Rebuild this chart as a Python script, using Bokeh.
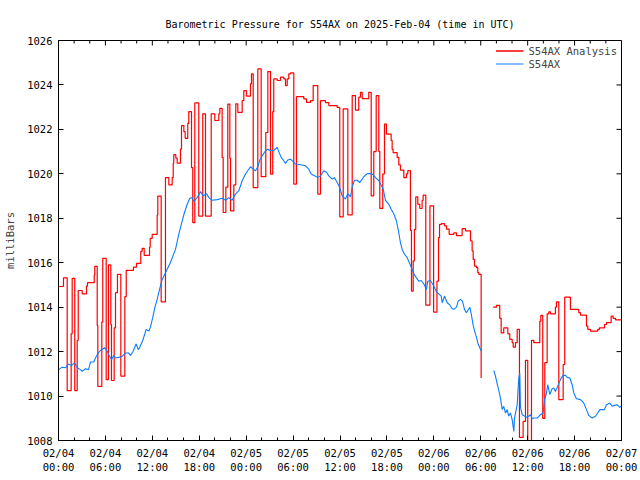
import math
from bokeh.plotting import figure
from bokeh.models import Range1d, FixedTicker, Legend, LegendItem
from bokeh.embed import file_html
from bokeh.resources import INLINE

NAN = float("nan")
FONT = "DejaVu Sans Mono"

TITLE = "Barometric Pressure for S54AX on 2025-Feb-04 (time in UTC)"
Y_LABEL = "milliBars"

# x axis: hours since 2025-02-04 00:00 UTC
x_ticks = [0, 6, 12, 18, 24, 30, 36, 42, 48, 54, 60, 66, 72]
x_minor_ticks = list(range(0, 73, 2))
x_tick_labels = ["02/04\n00:00", "02/04\n06:00", "02/04\n12:00", "02/04\n18:00",
                 "02/05\n00:00", "02/05\n06:00", "02/05\n12:00", "02/05\n18:00",
                 "02/06\n00:00", "02/06\n06:00", "02/06\n12:00", "02/06\n18:00",
                 "02/07\n00:00"]
y_ticks = [1008, 1010, 1012, 1014, 1016, 1018, 1020, 1022, 1024, 1026]

# S54AX Analysis (step series), part before the data gap
analysis_hours_a = [0.0, 0.64, 1.11, 1.62, 1.75, 2.08, 2.39, 2.52, 3.03, 3.58, 3.71, 4.57, 4.64,
                    4.95, 5.03, 5.54, 5.66, 6.10, 6.39, 6.69, 6.78, 7.12, 7.29, 7.54, 7.97,
                    8.48, 8.66, 9.59, 9.97, 10.52, 10.70, 10.96, 11.64, 11.73, 11.98, 12.62,
                    12.70, 13.13, 13.68, 14.11, 14.54, 14.67, 14.74, 15.0, 15.18, 15.6, 15.73,
                    16.03, 16.2, 16.53, 16.66, 17.01, 17.17, 17.43, 17.94, 18.45, 18.8, 19.53,
                    19.99, 20.5, 20.63, 20.93, 21.06, 21.4, 21.65, 21.91, 22.0, 22.42, 22.67,
                    22.93, 23.49, 23.7, 24.04, 24.55, 24.68, 24.9, 25.49, 25.92, 26.51, 26.77,
                    27.11, 27.4, 27.53, 27.97, 28.39, 28.81, 29.03, 29.25, 29.45, 29.67, 30.09,
                    30.43, 31.37, 31.71, 32.23, 32.57, 33.16, 33.5, 34.14, 34.57, 35.64, 35.97,
                    36.41, 37.0, 37.56, 37.98, 38.4, 38.62, 38.84, 39.68, 39.99, 40.32, 40.63,
                    40.96, 41.09, 41.47, 41.69, 41.94, 42.54, 42.67, 42.8, 43.31, 43.52, 43.73,
                    44.16, 44.5, 44.67, 45.01, 45.14, 45.36, 45.52, 45.69, 45.95, 46.2, 46.5,
                    46.63, 46.97, 47.5, 47.97, 48.4, 48.6, 48.73, 48.98, 49.36, 49.62, 49.96,
                    50.55, 50.9, 51.62, 52.05, 52.69, 52.9, 53.03, 53.2, 53.45, 53.62, 53.75,
                    54.05]
analysis_mb_a = [1014.93, 1015.32, 1010.24, 1012.8, 1015.3, 1010.24, 1012.5, 1014.75, 1014.6,
                 1014.95, 1015.1, 1015.45, 1015.84, 1013.18, 1010.44, 1013.33, 1016.2, 1010.74,
                 1015.9, 1013.22, 1010.7, 1013.07, 1014.65, 1015.48, 1010.9, 1014.47, 1015.66,
                 1015.8, 1015.97, 1016.51, 1016.65, 1016.33, 1016.7, 1017.1, 1017.28, 1018.15,
                 1019.0, 1014.24, 1019.83, 1019.5, 1019.83, 1020.48, 1020.86, 1020.71, 1020.48,
                 1021.11, 1022.17, 1021.9, 1021.6, 1022.27, 1022.8, 1020.28, 1017.8, 1023.19,
                 1018.1, 1022.7, 1018.1, 1022.7, 1022.4, 1022.7, 1022.95, 1020.74, 1018.26,
                 1019.4, 1023.14, 1020.7, 1018.33, 1019.5, 1023.15, 1022.77, 1023.3, 1023.74,
                 1023.5, 1024.05, 1024.5, 1019.38, 1024.72, 1019.87, 1021.86, 1024.6, 1019.99,
                 1022.8, 1024.27, 1024.2, 1024.35, 1024.27, 1023.97, 1024.27, 1024.5, 1024.54,
                 1019.54, 1023.47, 1023.37, 1023.22, 1023.29, 1023.97, 1019.09, 1023.29,
                 1023.2, 1023.07, 1022.99, 1018.06, 1022.92, 1018.15, 1023.52, 1022.87,
                 1023.45, 1023.67, 1023.38, 1023.67, 1019.01, 1021.0, 1023.52, 1021.0, 1018.45,
                 1020.0, 1022.24, 1021.79, 1021.5, 1021.1, 1020.95, 1020.74, 1020.4, 1020.17,
                 1019.83, 1020.0, 1020.14, 1017.46, 1014.72, 1016.08, 1017.5, 1018.96, 1018.63,
                 1018.44, 1018.8, 1019.04, 1014.09, 1018.56, 1013.78, 1015.17, 1017.13, 1017.73,
                 1017.76, 1017.66, 1017.51, 1017.28, 1017.34, 1017.22, 1017.53, 1017.43,
                 1016.98, 1016.53, 1016.15, 1015.85, 1015.78, 1015.55, 1015.48, 1010.81]

# S54AX Analysis, part after the data gap
analysis_hours_b = [55.59, 56.01, 56.43, 56.61, 56.94, 57.46, 57.71, 58.02, 58.15, 58.44,
                    58.66, 58.95, 59.42, 59.72, 60.01, 60.49, 60.78, 61.55, 61.68, 61.93,
                    62.19, 62.49, 62.7, 62.92, 63.55, 63.68, 63.98, 64.54, 64.74, 65.47,
                    66.53, 66.75, 67.52, 67.69, 68.03, 68.96, 69.18, 69.82, 70.08, 70.68,
                    70.93, 71.23, 71.95]
analysis_mb_b = [1014.0, 1014.08, 1013.5, 1012.84, 1013.07, 1012.8, 1012.55, 1012.4, 1012.2,
                 1012.4, 1013.0, 1008.14, 1008.86, 1011.61, 1007.9, 1012.51, 1012.4, 1013.37,
                 1013.63, 1009.0, 1011.5, 1013.7, 1013.79, 1013.7, 1014.0, 1014.24, 1009.84,
                 1011.42, 1014.45, 1013.9, 1013.75, 1013.64, 1013.15, 1013.0, 1012.92, 1013.0,
                 1013.07, 1013.22, 1013.3, 1013.6, 1013.5, 1013.43, 1013.43]

# S54AX observations
obs_hours = [0.04, 0.47, 0.9, 1.24, 1.66, 2.08, 2.39, 2.81, 3.03, 3.45, 3.84, 4.09, 4.51, 4.73,
             5.08, 5.37, 5.92, 6.23, 6.52, 6.78, 7.07, 7.29, 7.71, 8.15, 8.57, 8.91, 9.21, 9.5,
             9.94, 10.19, 10.36, 10.78, 11.21, 11.55, 11.76, 12.06, 12.31, 12.62, 12.92, 13.26,
             13.59, 14.3, 14.96, 15.38, 15.82, 16.11, 16.46, 16.79, 17.1, 17.3, 17.74, 18.16,
             18.5, 18.93, 19.22, 19.65, 20.29, 20.93, 21.36, 21.78, 22.21, 22.63, 23.06, 23.49,
             23.91, 24.55, 24.9, 25.19, 25.49, 25.74, 26.05, 26.47, 26.77, 27.11, 27.53, 27.97,
             28.17, 28.48, 28.81, 29.03, 29.32, 29.67, 30.01, 30.31, 30.95, 31.59, 32.01, 32.31,
             32.74, 33.16, 33.5, 33.93, 34.27, 34.57, 35.0, 35.29, 35.64, 35.97, 36.28, 36.7,
             36.99, 37.34, 37.56, 37.85, 38.2, 38.53, 38.84, 39.04, 39.48, 39.9, 40.24, 40.54,
             40.96, 41.27, 41.52, 41.82, 42.24, 42.54, 42.88, 43.22, 43.52, 43.73, 43.95, 44.25,
             44.59, 44.92, 45.23, 45.44, 45.78, 46.07, 46.38, 46.71, 47.06, 47.23, 47.57, 47.99,
             48.34, 48.63, 48.94, 49.07, 49.36, 49.71, 50.04, 50.34, 50.55, 50.9, 51.11, 51.41,
             51.66, 51.92, 52.17, 52.6, 52.78, 53.03, 53.24, 53.45, 53.62, 53.8, 54.05, 54.8,
             55.67, 55.88, 56.18, 56.43, 56.52, 56.74, 56.94, 57.16, 57.38, 57.58, 57.8, 58.02,
             58.23, 58.31, 58.66, 58.86, 58.99, 59.08, 59.3, 59.59, 59.94, 60.36, 60.58, 60.78,
             61.21, 61.64, 61.98, 62.15, 62.37, 62.57, 62.83, 63.13, 63.34, 63.55, 63.77, 64.1,
             64.28, 64.54, 64.83, 65.05, 65.39, 65.69, 65.9, 66.24, 66.75, 67.17, 67.52, 67.81,
             68.25, 68.67, 68.96, 69.22, 69.57, 69.82, 70.08, 70.5, 70.8, 71.1, 71.44, 71.77,
             71.95]
obs_mb = [1011.19, 1011.3, 1011.27, 1011.44, 1011.38, 1011.49, 1011.27, 1011.19, 1011.11,
          1011.23, 1011.19, 1011.53, 1011.53, 1011.71, 1011.94, 1012.05, 1012.17, 1012.02,
          1011.79, 1011.64, 1011.83, 1011.71, 1011.74, 1011.79, 1011.94, 1011.94, 1011.83,
          1011.98, 1012.35, 1012.09, 1012.17, 1012.5, 1013.0, 1012.92, 1013.1, 1013.55,
          1013.97, 1014.35, 1014.8, 1015.25, 1015.48, 1016.0, 1016.6, 1017.28, 1017.88,
          1018.26, 1018.63, 1018.9, 1018.93, 1018.75, 1018.93, 1019.2, 1019.0, 1019.11,
          1018.93, 1018.81, 1018.84, 1018.9, 1018.81, 1018.93, 1018.81, 1019.09, 1019.24,
          1019.69, 1019.99, 1020.32, 1020.21, 1020.14, 1020.32, 1020.62, 1020.81, 1021.04,
          1021.11, 1021.04, 1021.06, 1021.19, 1021.0, 1020.74, 1020.59, 1020.47, 1020.62,
          1020.66, 1020.55, 1020.44, 1020.41, 1020.36, 1020.21, 1019.99, 1019.91, 1019.83,
          1019.91, 1020.14, 1020.07, 1019.91, 1019.76, 1019.83, 1019.61, 1019.38, 1019.01,
          1018.86, 1019.11, 1018.96, 1019.41, 1019.71, 1019.71, 1019.61, 1019.76, 1019.87,
          1020.01, 1020.01, 1019.96, 1019.83, 1019.69, 1019.5, 1019.31, 1018.81, 1018.63,
          1018.41, 1018.2, 1017.88, 1017.35, 1016.9, 1016.6, 1016.38, 1016.23, 1015.95,
          1015.7, 1015.5, 1015.32, 1015.17, 1015.2, 1015.05, 1014.8, 1015.17, 1015.2,
          1014.95, 1014.69, 1014.6, 1014.5, 1014.2, 1014.5, 1014.2, 1014.1, 1013.94, 1013.9,
          1014.0, 1014.27, 1014.35, 1014.27, 1013.9, 1013.75, 1014.0, 1013.7, 1013.19,
          1012.89, 1012.65, 1012.39, 1012.24, 1012.02, NAN, 1011.15, 1010.9, 1010.44,
          1010.06, 1009.91, 1009.39, 1009.54, 1009.24, 1009.39, 1009.1, 1009.24, 1008.94,
          1008.41, 1009.0, 1009.61, 1010.81, 1011.04, 1009.5, 1009.16, 1009.1, 1009.04,
          1009.16, 1008.98, 1009.01, 1009.01, 1009.16, 1009.24, 1009.84, 1010.07, 1010.51,
          1010.07, 1010.33, 1010.36, 1010.2, 1010.38, 1010.66, 1010.81, 1010.93, 1010.93,
          1010.84, 1010.81, 1010.51, 1010.14, 1009.88, 1009.84, 1009.69, 1009.39, 1009.13,
          1009.01, 1009.09, 1009.24, 1009.39, 1009.39, 1009.39, 1009.61, 1009.69, 1009.54,
          1009.58, 1009.61, 1009.49, 1009.54]

RED = "#ff0000"
BLUE = "#0a7cff"
X_MIN, X_MAX = 0, 72
Y_MIN, Y_MAX = 1008, 1026

p = figure(width=640, height=480, output_backend="svg", toolbar_location=None,
           x_range=Range1d(X_MIN, X_MAX), y_range=Range1d(Y_MIN, Y_MAX),
           min_border_left=58, min_border_right=19, min_border_top=40, min_border_bottom=40)

p.title.text = TITLE
p.title.align = "center"
p.title.text_font = FONT
p.title.text_font_size = "10px"
p.title.text_font_style = "normal"
p.title.text_color = "black"
p.title.standoff = 21

p.xgrid.visible = False
p.ygrid.visible = False
p.outline_line_color = "black"
p.outline_line_width = 1
p.background_fill_color = "white"
p.border_fill_color = "white"

xt = FixedTicker(ticks=x_ticks, minor_ticks=x_minor_ticks)
yt = FixedTicker(ticks=y_ticks, minor_ticks=[])

MAJOR_LEN = 5
MINOR_LEN = 3


def style_axis(ax):
    ax.axis_line_color = "black"
    ax.major_tick_line_color = "black"
    ax.minor_tick_line_color = "black"
    ax.major_tick_in = MAJOR_LEN
    ax.major_tick_out = 0
    ax.minor_tick_in = MINOR_LEN
    ax.minor_tick_out = 0
    ax.major_label_text_font = FONT
    ax.major_label_text_color = "black"
    ax.major_label_text_font_size = "10.5px"


xa = p.xaxis[0]
xa.ticker = xt
xa.major_label_overrides = {t: s for t, s in zip(x_ticks, x_tick_labels)}
style_axis(xa)
xa.major_label_standoff = 6

ya = p.yaxis[0]
ya.ticker = yt
style_axis(ya)
ya.major_label_standoff = 6
ya.axis_label = Y_LABEL
ya.axis_label_text_font = FONT
ya.axis_label_text_font_size = "10.5px"
ya.axis_label_text_font_style = "normal"
ya.axis_label_standoff = 8

# mirrored inward ticks on the top and right edges (same tick positions as the axes)
x_minor_only = [t for t in x_minor_ticks if t not in x_ticks]
p.ray(x=x_ticks, y=[Y_MAX] * len(x_ticks), length=MAJOR_LEN, length_units="screen",
      angle=-math.pi / 2, line_color="black", line_width=1)
p.ray(x=x_minor_only, y=[Y_MAX] * len(x_minor_only), length=MINOR_LEN, length_units="screen",
      angle=-math.pi / 2, line_color="black", line_width=1)
p.ray(x=[X_MAX] * len(y_ticks), y=y_ticks, length=MAJOR_LEN, length_units="screen",
      angle=math.pi, line_color="black", line_width=1)

r_a = p.step(analysis_hours_a, analysis_mb_a, mode="after", line_color=RED, line_width=1.2)
r_b = p.step(analysis_hours_b, analysis_mb_b, mode="after", line_color=RED, line_width=1.2)
r_o = p.line(obs_hours, obs_mb, line_color=BLUE, line_width=1.1)

legend = Legend(items=[LegendItem(label="S54AX Analysis", renderers=[r_a, r_b]),
                       LegendItem(label="S54AX", renderers=[r_o])],
                location="top_right", border_line_color=None, background_fill_alpha=0,
                label_text_font=FONT, label_text_font_size="10.5px",
                glyph_width=28, glyph_height=13, label_height=13, spacing=0,
                padding=2, margin=4)
p.add_layout(legend)

open("out.html", "w").write(file_html(p, INLINE))
